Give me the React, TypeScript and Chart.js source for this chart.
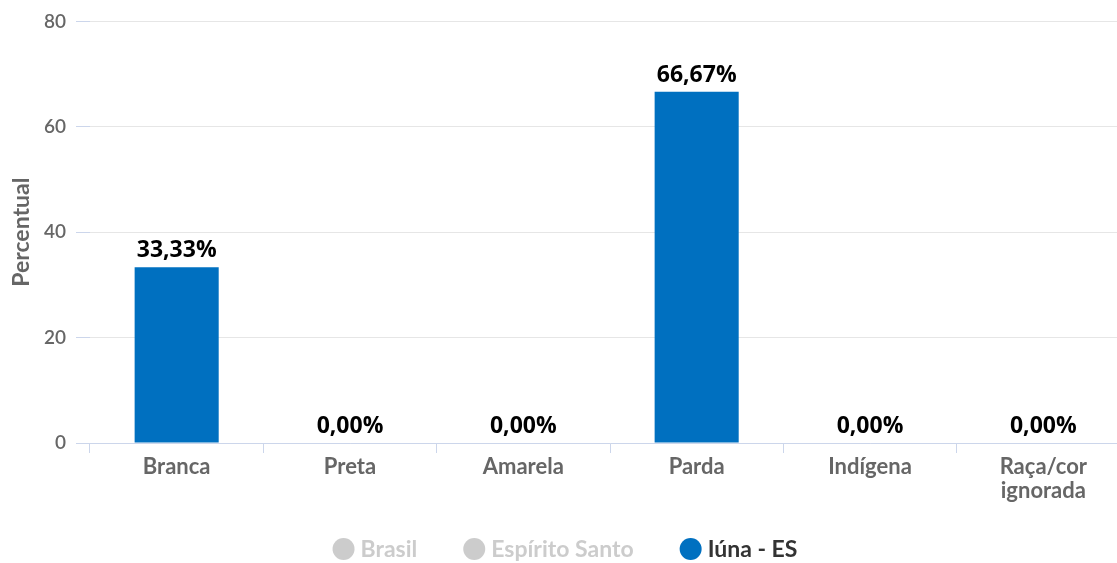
import React, { useEffect, useRef } from "react";
import { Chart, registerables } from "chart.js";

Chart.register(...registerables);

const categories: (string | string[])[] = ["Branca", "Preta", "Amarela", "Parda", "Indígena", ["Raça/cor", "ignorada"]];
const iunaValues = [33.33, 0, 0, 66.67, 0, 0];
const seriesNames = ["Brasil", "Espírito Santo", "Iúna - ES"];
const seriesColors = ["#cccccc", "#cccccc", "#0070c0"];
const seriesHidden = [true, true, false];
const yTicks = [0, 20, 40, 60, 80];

const FONT = "Lato, 'Open Sans', sans-serif";
const LABEL_FONT = "'Open Sans', sans-serif";

const dataLabelPlugin = {
  id: "dataLabels",
  afterDatasetsDraw(chart: any) {
    const ctx = chart.ctx;
    ctx.save();
    ctx.font = `bold 23px ${LABEL_FONT}`;
    ctx.fillStyle = "#000000";
    ctx.textAlign = "center";
    ctx.textBaseline = "alphabetic";
    chart.data.datasets.forEach((ds: any, i: number) => {
      const meta = chart.getDatasetMeta(i);
      if (!chart.isDatasetVisible(i)) return;
      meta.data.forEach((bar: any, j: number) => {
        const v = ds.data[j];
        const txt = v.toFixed(2).replace(".", ",") + "%";
        ctx.fillText(txt, bar.x, bar.y - 10);
      });
    });
    ctx.restore();
  },
};

const legendPlugin = {
  id: "customLegend",
  afterDraw(chart: any) {
    const ctx = chart.ctx;
    ctx.save();
    ctx.font = `bold 23px ${FONT}`;
    ctx.textBaseline = "middle";
    ctx.textAlign = "left";
    const r = 11;
    const gap = 6;
    const itemGap = 46;
    const items = chart.data.datasets.map((ds: any, i: number) => ({
      label: ds.label,
      color: ds.backgroundColor,
      hidden: !chart.isDatasetVisible(i),
      w: 2 * r + gap + ctx.measureText(ds.label).width,
    }));
    const total = items.reduce((s: number, it: any) => s + it.w, 0) + itemGap * (items.length - 1);
    let x = chart.width / 2 - total / 2;
    const y = 549;
    items.forEach((it: any) => {
      ctx.beginPath();
      ctx.arc(x + r, y, r, 0, Math.PI * 2);
      ctx.fillStyle = it.hidden ? "#cccccc" : it.color;
      ctx.fill();
      ctx.fillStyle = it.hidden ? "#cccccc" : "#333333";
      ctx.fillText(it.label, x + 2 * r + gap, y + 1);
      x += it.w + itemGap;
    });
    ctx.restore();
  },
};

export default function App() {
  const ref = useRef<HTMLCanvasElement>(null);
  useEffect(() => {
    if (!ref.current) return;
    const chart = new Chart(ref.current, {
      type: "bar",
      data: {
        labels: categories,
        datasets: seriesNames.map((name, i) => ({
          label: name,
          data: i === 2 ? iunaValues : [],
          backgroundColor: seriesColors[i],
          hidden: seriesHidden[i],
          categoryPercentage: 0.485,
          barPercentage: 1,
        })),
      },
      options: {
        responsive: false,
        animation: false,
        layout: { padding: { top: 19, bottom: 50, left: 0, right: 0 } },
        plugins: {
          legend: { display: false },
          tooltip: { enabled: false },
        },
        scales: {
          x: {
            grid: {
              offset: true,
              drawOnChartArea: false,
              tickLength: 10,
              color: "#ccd6eb",
              tickColor: "#ccd6eb",
            },
            border: { color: "#ccd6eb", width: 1 },
            ticks: {
              color: "#666666",
              font: { family: FONT, size: 22, weight: "bold", lineHeight: 1.1 },
              padding: 2,
              maxRotation: 0,
              autoSkip: false,
            },
            afterFit: (s: any) => {
              s.height = 70;
            },
          },
          y: {
            min: 0,
            max: 80,
            afterBuildTicks: (s: any) => {
              s.ticks = yTicks.map((v) => ({ value: v }));
            },
            grid: {
              color: "#e6e6e6",
              tickColor: "#ccd6eb",
              tickLength: 14,
            },
            border: { display: false },
            ticks: {
              color: "#666666",
              font: { family: FONT, size: 19, weight: 600 },
              padding: 10,
            },
            title: {
              display: true,
              text: "Percentual",
              color: "#666666",
              font: { family: FONT, size: 23, weight: "bold" },
              padding: { top: 8, bottom: 0 },
            },
            afterFit: (s: any) => {
              s.width = 90;
            },
          },
        },
      },
      plugins: [dataLabelPlugin, legendPlugin],
    });
    return () => chart.destroy();
  }, []);
  return (
    <div style={{ position: "fixed", left: 0, top: 0, width: 1117, height: 563, overflow: "hidden", background: "#fff" }}>
      <canvas ref={ref} width={1130} height={563} style={{ width: 1130, height: 563, display: "block" }} />
    </div>
  );
}
